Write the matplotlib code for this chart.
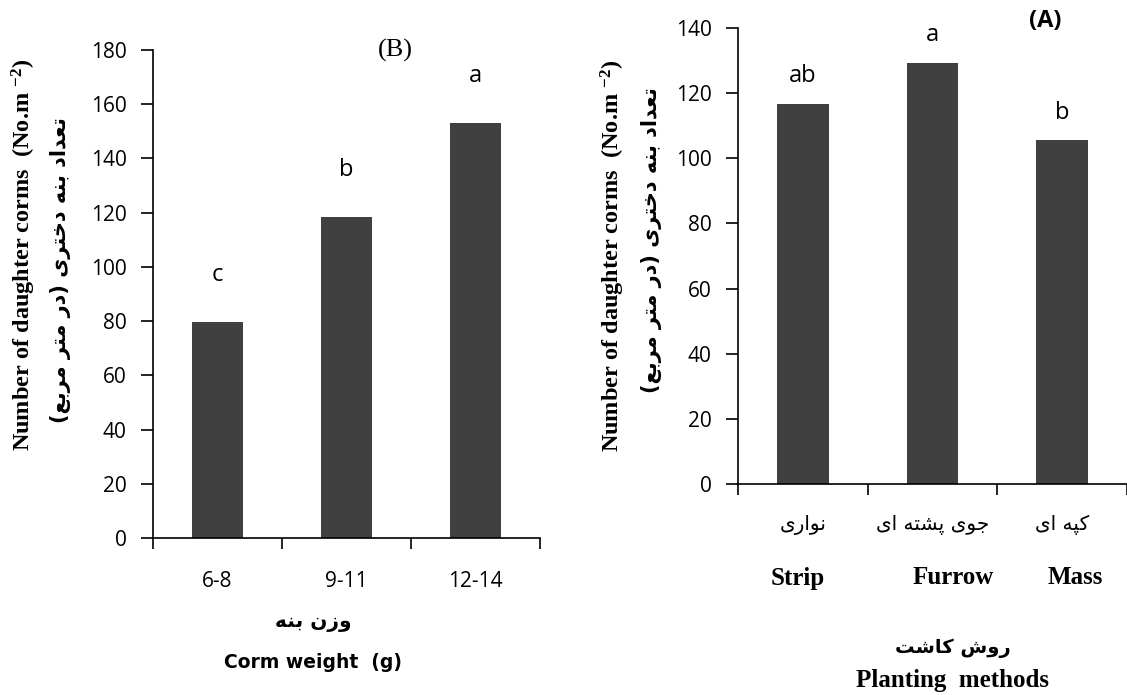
import matplotlib
matplotlib.use('Agg')
import matplotlib.pyplot as plt
import numpy as np

# data
weight_cats = ['6-8', '9-11', '12-14']
weight_vals = [79.5, 118.4, 153.0]
weight_letters = ['c', 'b', 'a']

method_cats_fa = ['نواری', 'جوی پشته ای', 'کپه ای']
method_cats_en = ['Strip', 'Furrow', 'Mass']
method_vals = [116.6, 129.2, 105.5]
method_letters = ['ab', 'a', 'b']

ylab_en = 'Number of daughter corms  (No.m $^{-2}$)'
ylab_fa = 'تعداد بنه دختری (در متر مربع)'
xlab_b_fa = 'وزن بنه'
xlab_b_en = 'Corm weight  (g)'
xlab_a_fa = 'روش کاشت'
xlab_a_en = 'Planting  methods'

# simple persian shaping (matplotlib does no arabic shaping)
FORMS = {  # isolated, final, initial, medial
    'ا': ('\uFE8D', '\uFE8E', None, None),
    'ب': ('\uFE8F', '\uFE90', '\uFE91', '\uFE92'),
    'پ': ('\uFB56', '\uFB57', '\uFB58', '\uFB59'),
    'ت': ('\uFE95', '\uFE96', '\uFE97', '\uFE98'),
    'ج': ('\uFE9D', '\uFE9E', '\uFE9F', '\uFEA0'),
    'خ': ('\uFEA5', '\uFEA6', '\uFEA7', '\uFEA8'),
    'د': ('\uFEA9', '\uFEAA', None, None),
    'ر': ('\uFEAD', '\uFEAE', None, None),
    'ز': ('\uFEAF', '\uFEB0', None, None),
    'ش': ('\uFEB5', '\uFEB6', '\uFEB7', '\uFEB8'),
    'ع': ('\uFEC9', '\uFECA', '\uFECB', '\uFECC'),
    'ک': ('\uFB8E', '\uFB8F', '\uFB90', '\uFB91'),
    'م': ('\uFEE1', '\uFEE2', '\uFEE3', '\uFEE4'),
    'ن': ('\uFEE5', '\uFEE6', '\uFEE7', '\uFEE8'),
    'ه': ('\uFEE9', '\uFEEA', '\uFEEB', '\uFEEC'),
    'و': ('\uFEED', '\uFEEE', None, None),
    'ی': ('\uFBFC', '\uFBFD', '\uFBFE', '\uFBFF'),
}

def fa(s):
    out = []
    for i, ch in enumerate(s):
        if ch not in FORMS:
            out.append(ch)
            continue
        prev = s[i-1] if i > 0 else ''
        nxt = s[i+1] if i + 1 < len(s) else ''
        jp = prev in FORMS and FORMS[prev][2] is not None
        jn = FORMS[ch][2] is not None and nxt in FORMS
        iso, fin, ini, med = FORMS[ch]
        if jp and jn:
            out.append(med)
        elif jp:
            out.append(fin)
        elif jn:
            out.append(ini)
        else:
            out.append(iso)
    vis = ''.join(out)[::-1]
    return vis.translate(str.maketrans('()', ')('))

plt.rcParams['mathtext.fontset'] = 'custom'
plt.rcParams['mathtext.rm'] = 'Liberation Serif:bold'
plt.rcParams['mathtext.it'] = 'Liberation Serif:bold'
plt.rcParams['mathtext.bf'] = 'Liberation Serif:bold'

bar_color = '#404040'
tick_font = 'Open Sans'
W, H = 1127, 695
fig = plt.figure(figsize=(W/100, H/100), dpi=100)

axB = fig.add_axes([153/W, 1-538/H, 387/W, 488/H])
axA = fig.add_axes([738/W, 1-484/H, 389/W, 456/H])

for ax in (axB, axA):
    for s in ('top', 'right'):
        ax.spines[s].set_visible(False)
    for s in ('left', 'bottom'):
        ax.spines[s].set_linewidth(1.2)
    ax.set_xlim(-0.5, 2.5)
    ax.set_xticks([-0.5, 0.5, 1.5, 2.5])
    ax.set_xticklabels([])
    ax.tick_params(axis='x', which='major', direction='out', length=8, width=1.2)
    ax.tick_params(axis='y', direction='out', length=9, width=1.2, pad=10,
                   labelsize=15)

# panel B
xb = np.arange(len(weight_cats))
axB.bar(xb, weight_vals, width=0.39, color=bar_color)
axB.set_ylim(0, 180)
axB.set_yticks(np.arange(0, 181, 20))
axB.set_yticklabels([str(v) for v in range(0, 181, 20)], fontfamily=tick_font, fontsize=15)
axB.set_xticks(xb, minor=True)
axB.set_xticklabels(weight_cats, minor=True, fontfamily=tick_font, fontsize=15)
axB.tick_params(axis='x', which='minor', length=0, pad=24)
for x, v, l in zip(xb, weight_vals, weight_letters):
    axB.annotate(l, (x, v), xytext=(0, 34), textcoords='offset points',
                 ha='center', va='center', fontsize=17, fontfamily=tick_font)
axB.text(0.627, 1.0, '(B)', transform=axB.transAxes, ha='center', va='center',
         fontsize=19, fontfamily='Liberation Serif')

# panel A
xa = np.arange(len(method_cats_en))
axA.bar(xa, method_vals, width=0.4, color=bar_color)
axA.set_ylim(0, 140)
axA.set_yticks(np.arange(0, 141, 20))
axA.set_yticklabels([str(v) for v in range(0, 141, 20)], fontfamily=tick_font, fontsize=15)
axA.set_xticks(xa, minor=True)
axA.set_xticklabels([fa(c) for c in method_cats_fa], minor=True,
                    fontfamily='DejaVu Sans', fontsize=14.5)
axA.tick_params(axis='x', which='minor', length=0, pad=22)
for x, v, l in zip(xa, method_vals, method_letters):
    axA.annotate(l, (x, v), xytext=(0, 20), textcoords='offset points',
                 ha='center', va='center', fontsize=17, fontfamily=tick_font)
axA.text(0.79, 1.015, '(A)', transform=axA.transAxes, ha='center', va='center',
         fontsize=17, fontweight='bold', fontfamily=tick_font)

# english category names under panel A
for xpix, name in zip([798, 953, 1075], method_cats_en):
    fig.text(xpix/W, 1-578/H, name, ha='center', va='center', fontsize=18,
             fontweight='bold', fontfamily='Liberation Serif')

# y labels
for xe, ye, xf, yf in [(24, 255, 61, 270), (613, 256, 652, 240)]:
    fig.text(xe/W, 1-ye/H, ylab_en, rotation=90, ha='center', va='center',
             fontsize=17.5, fontweight='bold', fontfamily='Liberation Serif')
    fig.text(xf/W, 1-yf/H, fa(ylab_fa), rotation=90, ha='center', va='center',
             fontsize=15, fontweight='bold', fontfamily='DejaVu Sans')

# x labels
fig.text(313/W, 1-622/H, fa(xlab_b_fa), ha='center', va='center', fontsize=14.5,
         fontweight='bold', fontfamily='DejaVu Sans')
fig.text(313/W, 1-663/H, xlab_b_en, ha='center', va='center', fontsize=13.5,
         fontweight='bold', fontfamily='DejaVu Sans')
fig.text(953/W, 1-648/H, fa(xlab_a_fa), ha='center', va='center', fontsize=14,
         fontweight='bold', fontfamily='DejaVu Sans')
fig.text(953/W, 1-680/H, xlab_a_en, ha='center', va='center', fontsize=18,
         fontweight='bold', fontfamily='Liberation Serif')

fig.savefig('out.png', dpi=100)
